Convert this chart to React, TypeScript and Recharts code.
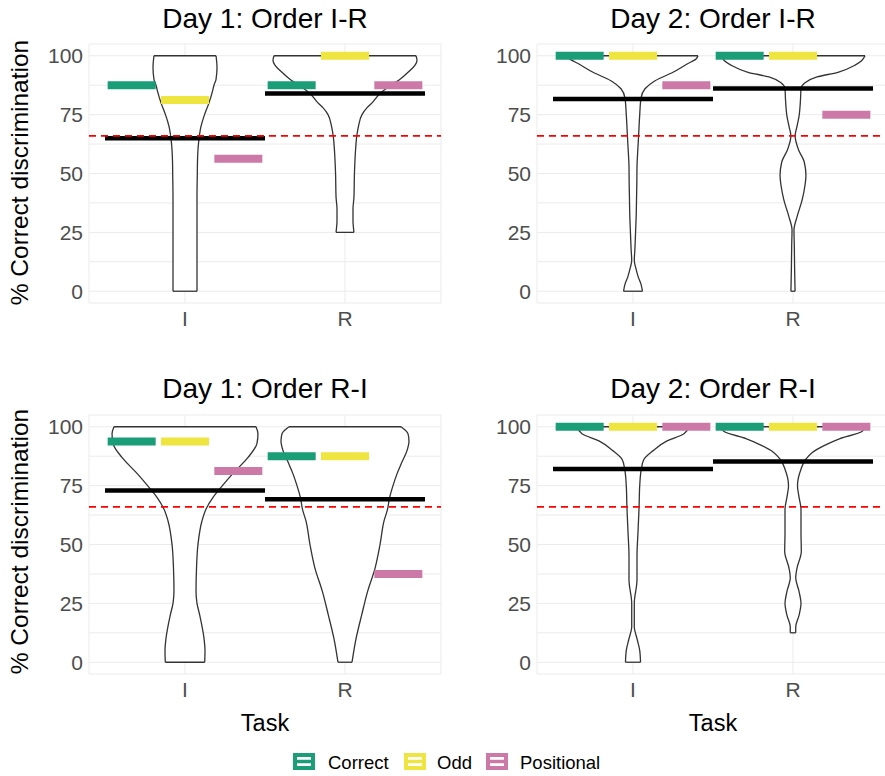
import React from "react";
import { ComposedChart, Area, Line, XAxis, YAxis, CartesianGrid, ReferenceLine } from "recharts";

const TASKS = ["I", "R"];
const TITLES = ["Day 1: Order I-R", "Day 2: Order I-R", "Day 1: Order R-I", "Day 2: Order R-I"];
const Y_TICKS = [0, 12.5, 25, 37.5, 50, 62.5, 75, 87.5, 100];
const CHANCE = 66;

// per panel: [I, R]
const CORRECT = [[87.5, 87.5], [100, 100], [93.75, 87.5], [100, 100]];
const ODD = [[81.25, 100], [100, 100], [93.75, 87.5], [100, 100]];
const POSITIONAL = [[56.25, 87.5], [87.5, 75], [81.25, 37.5], [100, 100]];
const MEANS = [[65, 84], [81.6, 86.1], [72.9, 69.2], [82.1, 85.2]];

// violin outlines: [score, half width in task units]
const V_D1_IR_I = [[0, 0.075], [10, 0.075], [20, 0.075], [30, 0.075], [40, 0.075], [50, 0.077], [55, 0.078], [60, 0.081], [65, 0.088], [70, 0.1], [75, 0.122], [80, 0.15], [85, 0.172], [87.5, 0.181], [90, 0.194], [95, 0.2], [100, 0.194]];
const V_D1_IR_R = [[25, 0.056], [30, 0.05], [35, 0.05], [40, 0.056], [50, 0.059], [60, 0.066], [65, 0.072], [70, 0.084], [75, 0.106], [78, 0.138], [80, 0.169], [84, 0.219], [88, 0.3], [90, 0.344], [93, 0.394], [96, 0.438], [98, 0.45], [100, 0.444]];
const V_D2_IR_I = [[0, 0.059], [3, 0.05], [6, 0.033], [10, 0.017], [13, 0.008], [18, 0.012], [25, 0.016], [32, 0.02], [39, 0.022], [46, 0.024], [53, 0.025], [60, 0.03], [66, 0.035], [75, 0.042], [82, 0.05], [86, 0.075], [89.4, 0.138], [93, 0.25], [96.5, 0.338], [98.6, 0.394], [100, 0.406]];
const V_D2_IR_R = [[0, 0.013], [10, 0.01], [20, 0.008], [26, 0.006], [32, 0.027], [39, 0.058], [45, 0.075], [49, 0.081], [55, 0.07], [60, 0.035], [66, 0.013], [70, 0.025], [74.5, 0.038], [81.6, 0.047], [86, 0.05], [88.5, 0.075], [91, 0.15], [93, 0.281], [96, 0.388], [98, 0.43], [100, 0.45]];
const V_D1_RI_I = [[0, 0.123], [5, 0.125], [10, 0.119], [20, 0.092], [25, 0.075], [30, 0.069], [40, 0.072], [50, 0.081], [60, 0.106], [65, 0.131], [70, 0.175], [75, 0.234], [80, 0.297], [87, 0.394], [93, 0.45], [97, 0.456], [100, 0.444]];
const V_D1_RI_R = [[0, 0.044], [10, 0.069], [20, 0.104], [30, 0.141], [40, 0.188], [50, 0.219], [60, 0.244], [65, 0.266], [70, 0.279], [75, 0.3], [80, 0.325], [85, 0.356], [90, 0.388], [94, 0.4], [97, 0.394], [100, 0.35]];
const V_D2_RI_I = [[0, 0.047], [5, 0.042], [10, 0.025], [15, 0.008], [25, 0.008], [35, 0.025], [45, 0.025], [55, 0.031], [66, 0.038], [75, 0.042], [82, 0.052], [86, 0.067], [90, 0.129], [94, 0.213], [97, 0.319], [100, 0.35]];
const V_D2_RI_R = [[12.5, 0.017], [15, 0.017], [20, 0.038], [25, 0.05], [30, 0.038], [36, 0.017], [40, 0.025], [47, 0.052], [55, 0.05], [65, 0.05], [70, 0.038], [75, 0.028], [82, 0.05], [86, 0.078], [89, 0.119], [92, 0.194], [95, 0.294], [98, 0.431], [100, 0.45]];
const VIOLINS = [
  [V_D1_IR_I, V_D1_IR_R],
  [V_D2_IR_I, V_D2_IR_R],
  [V_D1_RI_I, V_D1_RI_R],
  [V_D2_RI_I, V_D2_RI_R],
];

const GROUPS = [
  { name: "Correct", color: "#1B9E77", values: CORRECT, offset: -1 / 3 },
  { name: "Odd", color: "#EEE540", values: ODD, offset: 0 },
  { name: "Positional", color: "#CC79A7", values: POSITIONAL, offset: 1 / 3 },
];

const FONT = "'Liberation Sans', Arial, Helvetica, sans-serif";
const PLOT_LEFT = [89, 537];
const PLOT_TOP = [44.2, 415.2];
const PLOT_W = 352;
const PLOT_H = 259;

type Seg = { x: number; y: number }[];

// one two-point dataset per horizontal segment
function segments(vals: number[], offset: number, half: number): Seg[] {
  return vals.map((v, i) => {
    const c = i + 1 + offset;
    return [{ x: c - half, y: v }, { x: c + half, y: v }];
  });
}

function caps(violins: number[][][]): Seg[] {
  const out: Seg[] = [];
  violins.forEach((prof, i) => {
    const c = i + 1;
    [prof[0], prof[prof.length - 1]].forEach(([y, hw]) => {
      out.push([{ x: c - hw, y }, { x: c + hw, y }]);
    });
  });
  return out;
}

function Panel({ p }: { p: number }) {
  const left = PLOT_LEFT[p % 2];
  const top = PLOT_TOP[Math.floor(p / 2)];
  const violins = VIOLINS[p];
  const lines: { key: string; data: Seg; color: string; width: number }[] = [];
  caps(violins).forEach((d, i) => lines.push({ key: "cap" + i, data: d, color: "#333333", width: 1.3 }));
  segments(MEANS[p], 0, 0.5).forEach((d, i) => lines.push({ key: "mean" + i, data: d, color: "#000000", width: 4.5 }));
  GROUPS.forEach((g) =>
    segments(g.values[p], g.offset, 0.15).forEach((d, i) =>
      lines.push({ key: g.name + i, data: d, color: g.color, width: 8 })
    )
  );
  return (
    <div style={{ position: "absolute", left: left - 60, top: top - 10 }}>
      <ComposedChart
        layout="vertical"
        width={PLOT_W + 64}
        height={PLOT_H + 50}
        margin={{ top: 10, left: 10, right: 4, bottom: 10 }}
      >
        <CartesianGrid stroke="#EBEBEB" strokeWidth={1} />
        <XAxis
          type="number"
          domain={[0.4, 2.6]}
          ticks={[1, 2]}
          tickFormatter={(v) => TASKS[v - 1]}
          allowDataOverflow
          axisLine={false}
          tickLine={false}
          tickSize={0}
          tickMargin={8}
          height={30}
          tick={{ fill: "#4D4D4D", fontSize: 21, fontFamily: FONT }}
        />
        <YAxis
          type="number"
          dataKey="y"
          domain={[-5, 105]}
          reversed
          ticks={Y_TICKS}
          tickFormatter={(v) => (v % 25 === 0 ? String(v) : "")}
          allowDataOverflow
          axisLine={false}
          tickLine={false}
          tickSize={0}
          tickMargin={6}
          width={50}
          tick={{ fill: "#4D4D4D", fontSize: 21, fontFamily: FONT }}
        />
        {violins.map((prof, i) => (
          <Area
            key={"v" + i}
            data={prof.map(([y, hw]) => ({ y, v: [i + 1 - hw, i + 1 + hw] }))}
            dataKey="v"
            type="monotone"
            stroke="#333333"
            strokeWidth={1.3}
            fill="#FFFFFF"
            fillOpacity={1}
            isAnimationActive={false}
            dot={false}
            activeDot={false}
          />
        ))}
        {lines.map((l) => (
          <Line
            key={l.key}
            data={l.data}
            dataKey="x"
            type="linear"
            stroke={l.color}
            strokeWidth={l.width}
            dot={false}
            activeDot={false}
            isAnimationActive={false}
          />
        ))}
        <ReferenceLine y={CHANCE} stroke="#FF0000" strokeWidth={1.6} strokeDasharray="7 5" />
      </ComposedChart>
    </div>
  );
}

function LegendKey({ x, color }: { x: number; color: string }) {
  return (
    <g transform={`translate(${x},753)`}>
      <rect x={2} y={2} width={18} height={13} fill="#FFFFFF" stroke={color} strokeWidth={4} />
      <line x1={2} x2={20} y1={8.5} y2={8.5} stroke={color} strokeWidth={3.5} />
    </g>
  );
}

export default function App() {
  const titleX = [265, 713];
  return (
    <div
      style={{
        position: "absolute",
        left: 0,
        top: 0,
        width: 885,
        height: 776,
        overflow: "hidden",
        background: "#FFFFFF",
        fontFamily: FONT,
      }}
    >
      <svg width={885} height={776} style={{ position: "absolute", left: 0, top: 0 }}>
        {TITLES.map((t, i) => (
          <text
            key={t}
            x={titleX[i % 2]}
            y={i < 2 ? 28.3 : 398.3}
            textAnchor="middle"
            fontSize={28}
            fontFamily={FONT}
            fill="#000000"
          >
            {t}
          </text>
        ))}
        {[172.5, 541.5].map((cy) => (
          <text
            key={cy}
            transform={`translate(28,${cy}) rotate(-90)`}
            textAnchor="middle"
            fontSize={24.5}
            fontFamily={FONT}
            fill="#000000"
          >
            % Correct discrimination
          </text>
        ))}
        {titleX.map((cx) => (
          <text key={cx} x={cx} y={730.7} textAnchor="middle" fontSize={23.5} fontFamily={FONT} fill="#000000">
            Task
          </text>
        ))}
        <LegendKey x={293} color={GROUPS[0].color} />
        <text x={328} y={769.3} fontSize={18.5} fontFamily={FONT} fill="#000000">Correct</text>
        <LegendKey x={404} color={GROUPS[1].color} />
        <text x={437} y={769.3} fontSize={18.5} fontFamily={FONT} fill="#000000">Odd</text>
        <LegendKey x={486} color={GROUPS[2].color} />
        <text x={520} y={769.3} fontSize={18.5} fontFamily={FONT} fill="#000000">Positional</text>
      </svg>
      {[0, 1, 2, 3].map((p) => (
        <Panel key={p} p={p} />
      ))}
    </div>
  );
}
